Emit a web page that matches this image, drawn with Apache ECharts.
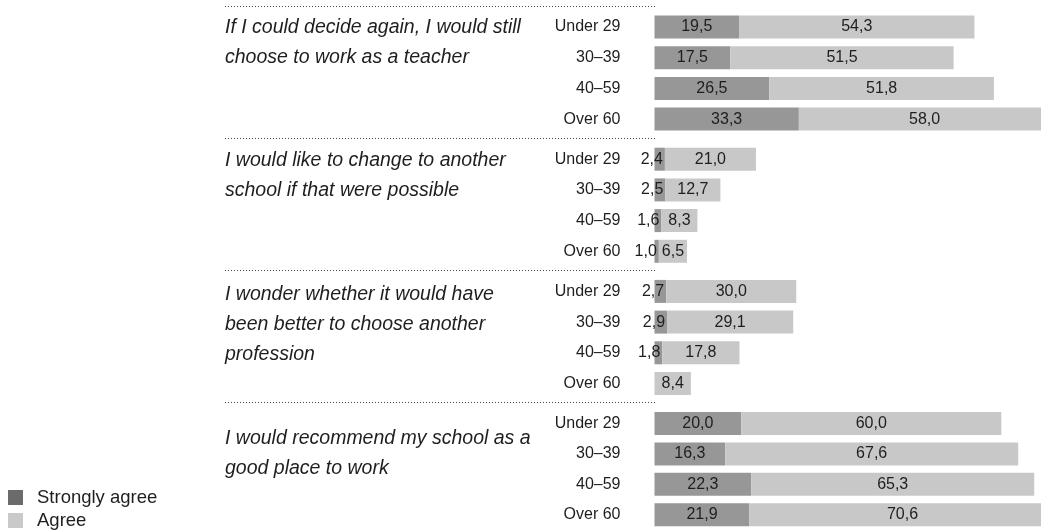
<!DOCTYPE html>
<html>
<head>
<meta charset="utf-8">
<script src="https://cdn.jsdelivr.net/npm/echarts@6/dist/echarts.min.js"></script>
<style>
  html, body { margin: 0; padding: 0; background: #fff; }
  #chart { width: 1041px; height: 530px; }
</style>
</head>
<body>
<div id="chart"></div>
<script>
// Survey statements and age groups
const statements = [
  'If I could decide again, I would still\nchoose to work as a teacher',
  'I would like to change to another\nschool if that were possible',
  'I wonder whether it would have\nbeen better to choose another\nprofession',
  'I would recommend my school as a\ngood place to work'
];
const ageGroups = ['Under 29', '30–39', '40–59', 'Over 60'];

// Percentages per statement, one value per age group
const stronglyAgree1 = [19.5, 17.5, 26.5, 33.3];
const agree1 = [54.3, 51.5, 51.8, 58.0];
const stronglyAgree2 = [2.4, 2.5, 1.6, 1.0];
const agree2 = [21.0, 12.7, 8.3, 6.5];
const stronglyAgree3 = [2.7, 2.9, 1.8, 0];
const agree3 = [30.0, 29.1, 17.8, 8.4];
const stronglyAgree4 = [20.0, 16.3, 22.3, 21.9];
const agree4 = [60.0, 67.6, 65.3, 70.6];

const strongSets = [stronglyAgree1, stronglyAgree2, stronglyAgree3, stronglyAgree4];
const agreeSets = [agree1, agree2, agree3, agree4];

const FONT = "'Liberation Sans', Arial, sans-serif";
const DARK = '#979797';
const LIGHT = '#c8c8c8';
const TEXT = '#1e1e1e';

const fmt = v => v.toFixed(1).replace('.', ',');

// plot area runs to the right edge; longer bars continue past it and are cut by the canvas
const PLOT_LEFT = 654.5;
const PLOT_WIDTH = 386.5;
const X_MAX = 89.16;          // ~4.335 px per percentage point
const GROUP_TOP = 11.65;
const GROUP_STEP = 132.2;
const GROUP_HEIGHT = 122.8;

const grids = [], xAxes = [], yAxes = [], series = [], graphics = [];

const firstLineY = [28.5, 162, 295.5, 439.5];

statements.forEach((txt, g) => {
  const top = GROUP_TOP + g * GROUP_STEP;
  grids.push({ left: PLOT_LEFT, width: PLOT_WIDTH, top: top, height: GROUP_HEIGHT, containLabel: false });
  xAxes.push({ gridIndex: g, type: 'value', min: 0, max: X_MAX, show: false });
  yAxes.push({
    gridIndex: g, type: 'category', data: ageGroups, inverse: true,
    axisLine: { show: false }, axisTick: { show: false }, splitLine: { show: false },
    axisLabel: { margin: 34, color: TEXT, fontFamily: FONT, fontSize: 16 }
  });

  series.push({
    name: 'Strongly agree', type: 'bar', stack: 'g' + g, clip: false,
    xAxisIndex: g, yAxisIndex: g, barWidth: 23,
    itemStyle: { color: DARK },
    data: strongSets[g].map(v => {
      const small = v < 5;
      return {
        value: v,
        label: {
          show: v > 0,
          position: small ? 'insideRight' : 'inside',
          distance: small ? 2 : 5,
          formatter: p => fmt(p.value)
        }
      };
    }),
    label: { color: TEXT, fontFamily: FONT, fontSize: 16 },
    emphasis: { disabled: true },
    animation: false
  });
  series.push({
    name: 'Agree', type: 'bar', stack: 'g' + g, clip: false,
    xAxisIndex: g, yAxisIndex: g, barWidth: 23,
    itemStyle: { color: LIGHT },
    data: agreeSets[g],
    label: {
      show: true, position: 'inside', color: TEXT, fontFamily: FONT, fontSize: 16,
      formatter: p => fmt(p.value)
    },
    emphasis: { disabled: true },
    animation: false
  });

  // dotted separator above each statement block
  const ly = Math.round(top - 6) + 0.5;
  graphics.push({
    type: 'line', silent: true,
    shape: { x1: 225, y1: ly, x2: 655, y2: ly },
    style: { stroke: '#444', lineWidth: 1, lineDash: [1, 2] }
  });

  // statement text, one line per row
  txt.split('\n').forEach((line, k) => {
    graphics.push({
      type: 'text', silent: true, left: 225, top: firstLineY[g] + k * 30 - 11,
      style: {
        text: line, fill: TEXT, font: 'italic 19.5px ' + FONT,
        textVerticalAlign: 'top'
      }
    });
  });
});

const chart = echarts.init(document.getElementById('chart'), null, { renderer: 'canvas' });
chart.setOption({
  animation: false,
  backgroundColor: '#fff',
  grid: grids,
  xAxis: xAxes,
  yAxis: yAxes,
  series: series,
  graphic: graphics,
  legend: {
    orient: 'vertical', left: 8, bottom: 0, padding: 0,
    itemWidth: 15, itemHeight: 15, itemGap: 4,
    icon: 'rect',
    selectedMode: false,
    textStyle: { color: TEXT, fontFamily: FONT, fontSize: 18.5, padding: [0, 0, 0, 9] },
    data: [
      { name: 'Strongly agree', itemStyle: { color: '#6b6b6b' } },
      { name: 'Agree', itemStyle: { color: '#c9c9c9' } }
    ]
  }
});
</script>
</body>
</html>
